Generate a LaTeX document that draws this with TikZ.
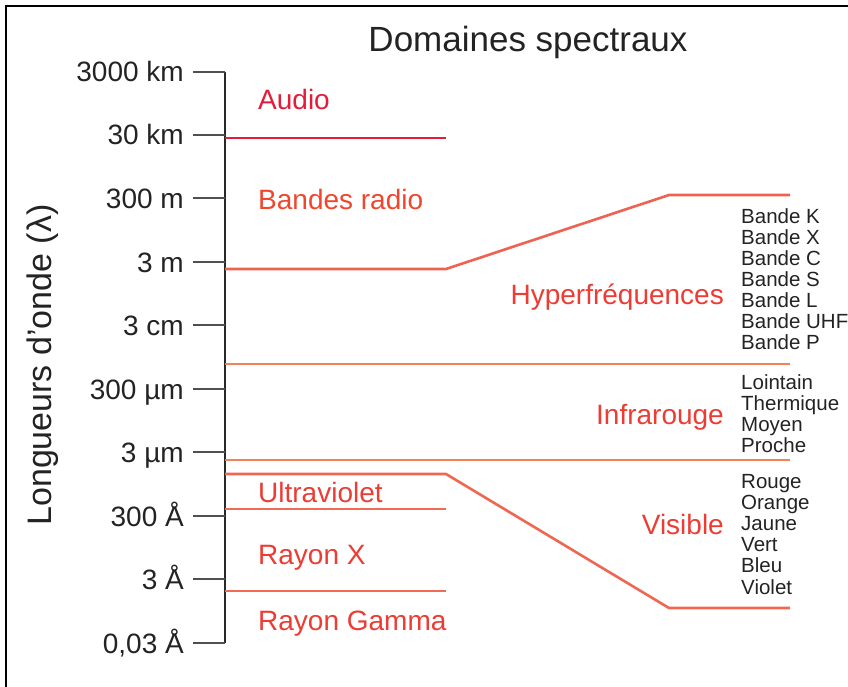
\documentclass[tikz,border=0pt]{standalone}
\usepackage{fontspec}
\setmainfont{Liberation Sans}
\definecolor{axisgray}{RGB}{40,40,40}
\definecolor{tickgray}{RGB}{80,80,80}
\definecolor{crimson}{RGB}{228,28,58}
\definecolor{lblred}{RGB}{236,60,52}
\definecolor{lineorange}{RGB}{244,128,88}
\definecolor{txtgray}{RGB}{35,35,35}
\tikzset{
  frameline/.style={line width=2.4pt,black},
  axisline/.style={line width=1.8pt,axisgray},
  tickline/.style={line width=1.8pt,tickgray},
  ticklbl/.style={anchor=base east,inner sep=0pt,font=\fontsize{28}{30}\selectfont,text=txtgray},
  bandlbl/.style={anchor=base west,inner sep=0pt,font=\fontsize{28}{30}\selectfont,text=lblred},
  bandlblr/.style={anchor=base east,inner sep=0pt,font=\fontsize{28}{30}\selectfont,text=lblred},
  sublbl/.style={anchor=base west,inner sep=0pt,font=\fontsize{20.5}{21}\selectfont,text=txtgray},
  redline/.style={line width=1.8pt,crimson},
  orline/.style={line width=2.6pt,lineorange},
  orlinethin/.style={line width=2pt,lineorange!80!crimson}
}
\begin{document}
\begin{tikzpicture}[x=1pt,y=-1pt]
\useasboundingbox (0,0) rectangle (848,687);
% frame
\draw[frameline] (6,687) -- (6,6) -- (848,6);
% title
\node[anchor=base,inner sep=0pt,font=\fontsize{35}{38}\selectfont,text=txtgray] (title) at (528,52) {Domaines spectraux};
% axis title
\node[anchor=base,rotate=90,inner sep=0pt,font=\fontsize{34}{36}\selectfont,text=txtgray] (ylab) at (51,365) {Longueurs d'onde (λ)};
% axis
\coordinate (atop) at (225,72);
\coordinate (abot) at (225,643);
\draw[axisline] (atop) -- (abot);
% ticks
\foreach \y/\lab [count=\i] in {72/3000 km,135/30 km,198/300 m,262/3 m,325/3 cm,389/300 µm,452/3 µm,516/300 Å,579/3 Å,643/{0,03 Å}}{
  \coordinate (t\i) at (193,\y);
  \coordinate (ta\i) at (225,\y);
  \draw[tickline] (t\i) -- (ta\i);
  \node[ticklbl] (tl\i) at (184,\y+10) {\lab};
}
% boundaries
\coordinate (a1) at (225,138); \coordinate (a2) at (446,138);
\draw[redline] (a1) -- (a2);
\coordinate (r1) at (225,269); \coordinate (r2) at (446,269); \coordinate (r3) at (669,195); \coordinate (r4) at (790,195);
\draw[orline,draw=lineorange!70!crimson] (r1) -- (r2) -- (r3) -- (r4);
\coordinate (m1) at (225,364); \coordinate (m2) at (790,364);
\draw[orline] (m1) -- (m2);
\coordinate (i1) at (225,460); \coordinate (i2) at (790,460);
\draw[orline] (i1) -- (i2);
\coordinate (v1) at (225,474); \coordinate (v2) at (446,474); \coordinate (v3) at (669,608); \coordinate (v4) at (790,608);
\draw[orline,draw=lineorange!75!crimson] (v1) -- (v2) -- (v3) -- (v4);
\coordinate (u1) at (225,509); \coordinate (u2) at (446,509);
\draw[orlinethin] (u1) -- (u2);
\coordinate (x1) at (225,591); \coordinate (x2) at (446,591);
\draw[orlinethin] (x1) -- (x2);
% band labels
\node[bandlbl,text=crimson] (audio) at (258,110) {Audio};
\node[bandlbl,text=lblred!85!orange] (radio) at (258,209) {Bandes radio};
\node[bandlblr] (hyper) at (724,304) {Hyperfréquences};
\node[bandlblr] (infra) at (724,424) {Infrarouge};
\node[bandlblr] (visible) at (724,534) {Visible};
\node[bandlbl] (uv) at (258,502) {Ultraviolet};
\node[bandlbl] (rx) at (258,564) {Rayon X};
\node[bandlbl] (gamma) at (258,630) {Rayon Gamma};
% sub labels
\foreach \y/\lab [count=\i] in {216/Bande K,237/Bande X,258/Bande C,279/Bande S,300/Bande L,321/Bande UHF,342/Bande P,382/Lointain,403/Thermique,424/Moyen,445/Proche,481/Rouge,502/Orange,523/Jaune,544/Vert,565/Bleu,587/Violet}{
  \node[sublbl] (s\i) at (741,\y+7) {\lab};
}
\end{tikzpicture}
\end{document}
